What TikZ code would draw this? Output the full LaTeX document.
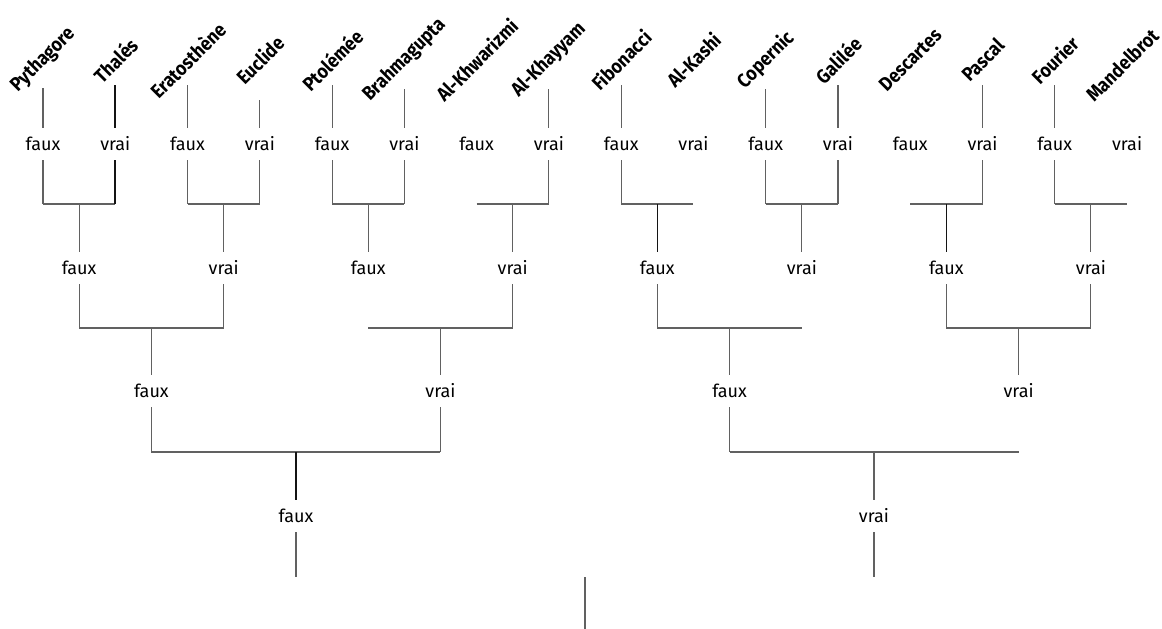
\documentclass[tikz,border=0pt]{standalone}
\usepackage{fontspec}
\setmainfont{Fira Sans}
\newfontfamily\namefont[FakeStretch=0.9]{Fira Sans Bold}
\begin{document}
\begin{tikzpicture}[x=1pt,y=-1pt,
  mathname/.style={font=\namefont\fontsize{19.5}{19.5}\selectfont, rotate=45, anchor=center, inner sep=0pt},
  val/.style={font=\fontsize{18}{18}\selectfont, minimum height=32pt, inner sep=0pt},
  ln/.style={draw=black!62, line width=1.1pt},
  hl/.style={draw=black!92, line width=1.6pt}]
\useasboundingbox (0,0) rectangle (1162,629);
% column positions
\foreach \i [evaluate=\i as \xx using 43+72.27*(\i-1)] in {1,...,16} {
  \coordinate (x\i) at (\xx,0);
}
% names
\foreach \i/\t in {1/Pythagore,2/Thalés,3/Eratosthène,4/Euclide,5/Ptolémée,6/Brahmagupta,7/Al-Khwarizmi,8/Al-Khayyam,9/Fibonacci,10/Al-Kashi,11/Copernic,12/Galilée,13/Descartes,14/Pascal,15/Fourier} {
  \node[mathname] (n\i) at ([yshift=-60pt]x\i) {\t};
}
\node[mathname] (n16) at ([xshift=-5pt,yshift=-65pt]x16) {Mandelbrot};
% level 1 values
\foreach \i/\v in {1/faux,2/vrai,3/faux,4/vrai,5/faux,6/vrai,7/faux,8/vrai,9/faux,10/vrai,11/faux,12/vrai,13/faux,14/vrai,15/faux,16/vrai} {
  \node[val] (a\i) at ([yshift=-144pt]x\i) {\v};
}
% level 2
\foreach \i/\v [evaluate=\i as \xx using 43+72.27*(2*\i-1.5)] in {1/faux,2/vrai,3/faux,4/vrai,5/faux,6/vrai,7/faux,8/vrai} {
  \node[val] (b\i) at (\xx,268) {\v};
}
% level 3
\foreach \i/\v [evaluate=\i as \xx using 43+72.27*(4*\i-2.5)] in {1/faux,2/vrai,3/faux,4/vrai} {
  \node[val] (c\i) at (\xx,391) {\v};
}
% level 4
\node[val] (d1) at (296,516) {faux};
\node[val] (d2) at (874,516) {vrai};
% name line tops
\foreach \i/\yy in {1/88,2/85,3/85,4/100,5/85,6/89,8/89,9/85,11/89,12/85,14/85,15/85} {
  \coordinate (t\i) at ([yshift=-\yy pt]x\i);
}
\foreach \i in {1,3,4,5,6,8,9,11,12,14,15} { \draw[ln] (t\i) -- (a\i.north); }
\draw[hl] (t2) -- (a2.north);
% level 1 -> level 2
\foreach \p/\l/\r in {1/1/2,2/3/4,3/5/6,4/7/8,5/9/10,6/11/12,7/13/14,8/15/16} {
  \draw[ln] (a\l |- 0,204) -- (a\r |- 0,204);
}
\foreach \i in {1,3,4,5,6,8,9,11,12,14,15} { \draw[ln] (a\i.south) -- (a\i |- 0,204); }
\draw[hl] (a2.south) -- (a2 |- 0,204);
\foreach \i in {1,2,3,4,6,8} { \draw[ln] (b\i |- 0,204) -- (b\i.north); }
\foreach \i in {5,7} { \draw[hl] (b\i |- 0,204) -- (b\i.north); }
% level 2 -> level 3
\foreach \l/\r in {1/2,3/4,5/6,7/8} {
  \draw[ln] (b\l |- 0,328) -- (b\r |- 0,328);
}
\foreach \i in {1,2,4,5,7,8} { \draw[ln] (b\i.south) -- (b\i |- 0,328); }
\foreach \i in {1,2,3,4} { \draw[ln] (c\i |- 0,328) -- (c\i.north); }
% level 3 -> level 4
\draw[ln, line width=1.5pt] (c1 |- 0,452) -- (c2 |- 0,452);
\draw[ln, line width=1.5pt] (c3 |- 0,452) -- (c4 |- 0,452);
\foreach \i in {1,2,3} { \draw[ln] (c\i.south) -- (c\i |- 0,452); }
\draw[hl] (d1 |- 0,452) -- (d1.north);
\draw[ln] (d2 |- 0,452) -- (d2.north);
% level 4 -> root
\coordinate (e1) at (296,577);
\coordinate (e2) at (874,577);
\draw[ln] (d1.south) -- (e1);
\draw[ln] (d2.south) -- (e2);
\coordinate (r1) at (585,577);
\coordinate (r2) at (585,629);
\draw[ln, line width=1.6pt] (r1) -- (r2);
\end{tikzpicture}
\end{document}
